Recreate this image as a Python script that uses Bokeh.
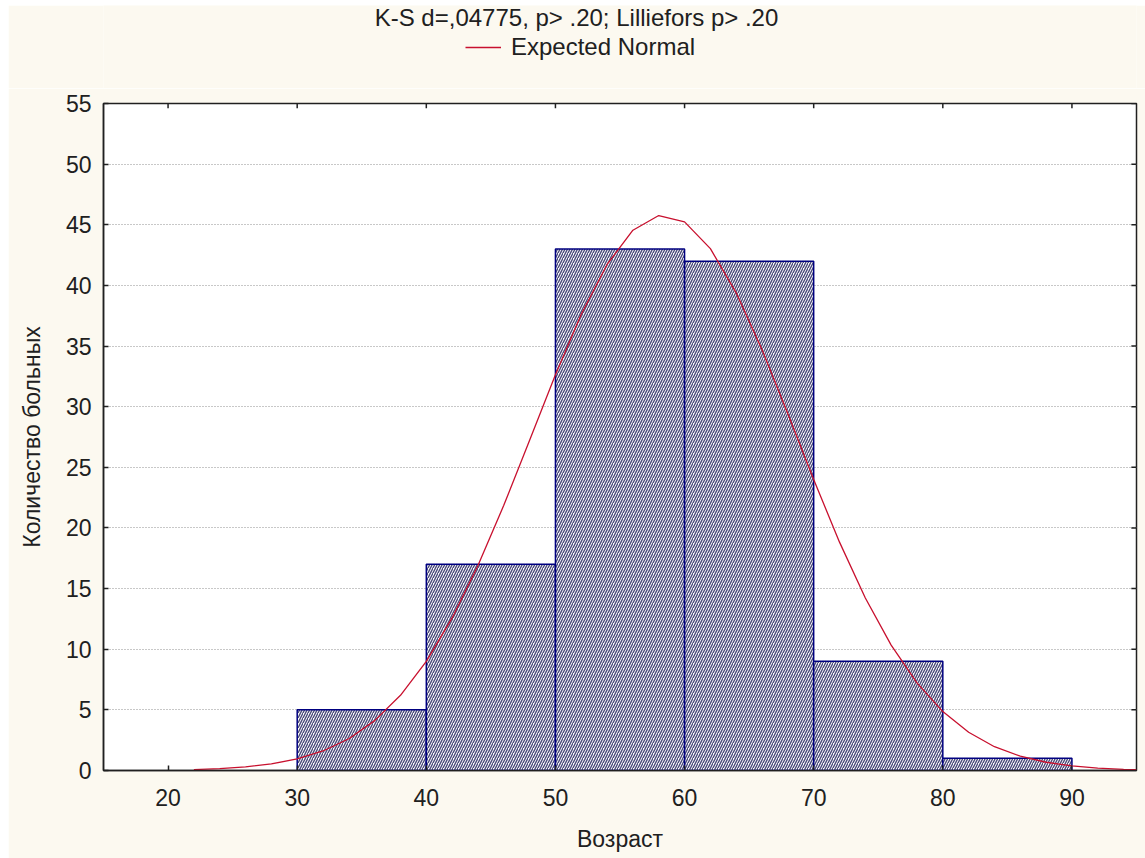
from bokeh.plotting import figure
from bokeh.models import Range1d, FixedTicker, Legend, LegendItem, Label
from bokeh.layouts import column
from bokeh.embed import file_html
from bokeh.resources import INLINE

# ---- data ----
bin_left = [30, 40, 50, 60, 70, 80]
bin_right = [40, 50, 60, 70, 80, 90]
counts = [5, 17, 43, 42, 9, 1]

curve_x = [22, 24, 26, 28, 30, 32, 34, 36, 38, 40, 42, 44, 46, 48, 50, 52, 54, 56, 58,
           60, 62, 64, 66, 68, 70, 72, 74, 76, 78, 80, 82, 84, 86, 88, 90, 92, 94, 95]
curve_y = [0.08, 0.16, 0.30, 0.54, 0.95, 1.61, 2.62, 4.11, 6.20, 9.00, 12.58, 16.91, 21.87,
           27.23, 32.63, 37.62, 41.73, 44.55, 45.76, 45.24, 43.03, 39.39, 34.70, 29.41, 23.99,
           18.83, 14.22, 10.34, 7.23, 4.86, 3.15, 1.96, 1.18, 0.68, 0.38, 0.20, 0.10, 0.07]

x_ticks = [20, 30, 40, 50, 60, 70, 80, 90]
y_ticks = [0, 5, 10, 15, 20, 25, 30, 35, 40, 45, 50, 55]

title_text = "K-S d=,04775, p> .20; Lilliefors p> .20"
legend_text = "Expected Normal"
x_label = "Возраст"
y_label = "Количество больных"

FONT = "Liberation Sans"
BG = "#FCF9F0"
TXT = "#202020"
AX = "#202020"
CURVE = "#C8102E"

X0, X1, Y0, Y1 = 15, 95, 0, 55

# ---------- header strip: title + legend ----------
top = figure(width=1137, height=83, x_range=Range1d(0, 1), y_range=Range1d(0, 1),
             output_backend="svg", toolbar_location=None,
             min_border_left=95, min_border_right=9, min_border_top=0, min_border_bottom=0,
             background_fill_color=BG, border_fill_color=BG)
top.margin = (5, 0, 0, 8)
top.axis.visible = False
top.grid.visible = False
top.outline_line_color = None

top.add_layout(Label(x=473, y=71, x_units="screen", y_units="screen", text=title_text,
                     text_font=FONT, text_font_size="24px", text_color=TXT,
                     text_align="center", text_baseline="middle"))

# legend sample line (kept outside the visible range; only its legend glyph shows)
legend_line = top.line(x=[-5, -4], y=[-5, -5], line_color=CURVE, line_width=1.3)
legend = Legend(items=[LegendItem(label=legend_text, renderers=[legend_line])],
                orientation="horizontal", location=(362, 27),
                label_text_font=FONT, label_text_font_size="24px", label_text_color=TXT,
                glyph_width=36, label_standoff=10, padding=0, margin=0, spacing=0,
                border_line_alpha=0, background_fill_alpha=0)
top.add_layout(legend, "center")

# ---------- main histogram ----------
p = figure(width=1137, height=770, x_range=Range1d(X0, X1), y_range=Range1d(Y0, Y1),
           output_backend="svg", toolbar_location=None,
           min_border_left=95, min_border_right=9, min_border_top=15, min_border_bottom=88,
           background_fill_color="white", border_fill_color=BG,
           x_axis_label=x_label, y_axis_label=y_label)
p.margin = (0, 0, 0, 8)

p.outline_line_color = AX
p.outline_line_width = 1.5

for ax in (p.xaxis[0], p.yaxis[0]):
    ax.axis_line_color = AX
    ax.axis_line_width = 1.5
    ax.major_tick_in = 5
    ax.major_tick_out = 0
    ax.major_tick_line_color = AX
    ax.major_tick_line_width = 1.5
    ax.minor_tick_line_color = None
    ax.major_label_text_font = FONT
    ax.major_label_text_font_size = "23px"
    ax.major_label_text_color = TXT
    ax.axis_label_text_font = FONT
    ax.axis_label_text_font_size = "23px"
    ax.axis_label_text_font_style = "normal"
    ax.axis_label_text_color = TXT

p.xaxis[0].ticker = FixedTicker(ticks=x_ticks)
p.yaxis[0].ticker = FixedTicker(ticks=y_ticks)
p.xaxis[0].major_label_standoff = 18
p.xaxis[0].axis_label_standoff = 17
p.yaxis[0].major_label_standoff = 12
p.yaxis[0].axis_label_standoff = 18

p.xgrid.visible = False
p.ygrid.ticker = FixedTicker(ticks=y_ticks)
p.ygrid.grid_line_color = "#909090"
p.ygrid.grid_line_dash = "1 2"
p.ygrid.grid_line_width = 1

# mirror ticks on the top and right frame edges (inward, like the left/bottom ones)
p.segment(x0=x_ticks, x1=x_ticks, y0=[Y1] * len(x_ticks), y1=[Y1 - 0.4] * len(x_ticks),
          line_color=AX, line_width=1.5)
p.segment(x0=[X1] * len(y_ticks), x1=[X1 - 0.4] * len(y_ticks), y0=y_ticks, y1=y_ticks,
          line_color=AX, line_width=1.5)

p.quad(left=bin_left, right=bin_right, bottom=0, top=counts,
       fill_color="white", line_color="#000080", line_width=1.5,
       hatch_pattern="/", hatch_color="#4a4a7a", hatch_scale=5, hatch_weight=1.4)

p.line(curve_x, curve_y, line_color=CURVE, line_width=1.3)

layout = column(top, p, spacing=0)

html = file_html(layout, INLINE)
open("out.html", "w").write(html)
